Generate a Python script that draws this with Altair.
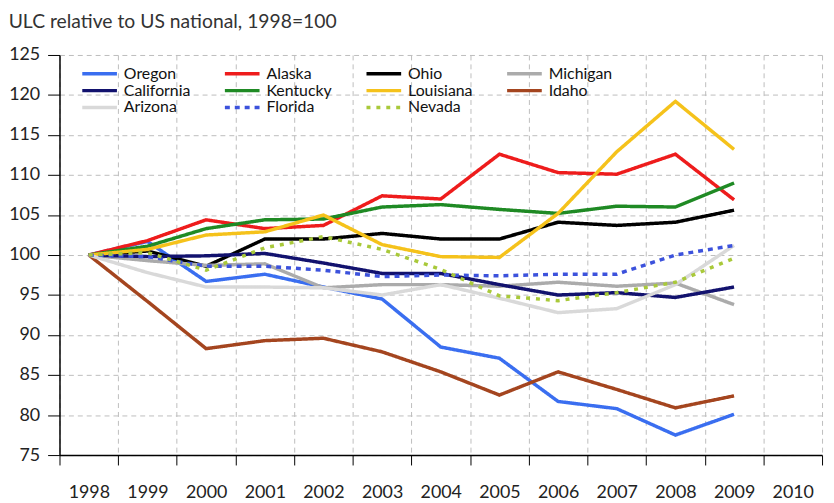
import altair as alt
import pandas as pd

years = [str(y) for y in range(1998, 2011)]
data_years = years[:12]

names = ["Oregon", "Alaska", "Ohio", "Michigan",
         "California", "Kentucky", "Louisiana", "Idaho",
         "Arizona", "Florida", "Nevada"]

oregon = [100, 101.7, 96.7, 97.6, 96.0, 94.5, 88.5, 87.1, 81.7, 80.8, 77.5, 80.1]
alaska = [100, 101.8, 104.4, 103.3, 103.7, 107.4, 107.0, 112.6, 110.3, 110.1, 112.6, 106.9]
ohio = [100, 100.5, 98.6, 102.0, 102.0, 102.7, 102.0, 102.0, 104.1, 103.7, 104.1, 105.6]
michigan = [100, 99.3, 98.7, 98.9, 95.9, 96.3, 96.3, 96.1, 96.6, 96.1, 96.5, 93.8]
california = [100, 99.8, 99.9, 100.2, 99.0, 97.7, 97.7, 96.3, 95.0, 95.3, 94.7, 96.0]
kentucky = [100, 101.1, 103.3, 104.4, 104.5, 106.0, 106.3, 105.7, 105.2, 106.1, 106.0, 109.0]
louisiana = [100, 100.7, 102.5, 102.9, 105.0, 101.3, 99.8, 99.7, 105.2, 112.9, 119.2, 113.2]
idaho = [100, 94.2, 88.3, 89.3, 89.6, 87.9, 85.4, 82.5, 85.4, 83.2, 80.9, 82.4]
arizona = [100, 97.8, 96.0, 96.0, 95.9, 95.0, 96.3, 94.6, 92.8, 93.3, 96.3, 101.2]
florida = [100, 99.8, 98.6, 98.6, 98.1, 97.3, 97.5, 97.4, 97.6, 97.6, 100.0, 101.2]
nevada = [100, 100.3, 98.1, 100.9, 102.3, 100.7, 98.2, 94.9, 94.3, 95.3, 96.6, 99.6]

series_values = [oregon, alaska, ohio, michigan, california, kentucky,
                 louisiana, idaho, arizona, florida, nevada]

colors = ["#3a6ef0", "#ee1c1c", "#000000", "#ababab",
          "#12126e", "#1f8a24", "#f5c21b", "#a4451f",
          "#d9d9d9", "#3c52dc", "#a9c93a"]
dashes = [[1, 0], [1, 0], [1, 0], [1, 0],
          [1, 0], [1, 0], [1, 0], [1, 0],
          [1, 0], [5, 5], [4, 6]]
widths = [3.5, 3.5, 3.5, 3.5, 3, 2.2, 2.5, 2.5, 2.5, 3, 3]

rows = []
for name, vals in zip(names, series_values):
    for y, v in zip(data_years, vals):
        rows.append({"series": name, "year": y, "value": v})
df = pd.DataFrame(rows)

FONT = "Lato"

chart = alt.Chart(df).mark_line().encode(
    x=alt.X("year:O",
            scale=alt.Scale(type="band", domain=years, paddingInner=0, paddingOuter=0),
            axis=alt.Axis(title=None, tickBand="extent", labelAngle=0,
                          labelFontSize=18, labelFont=FONT, labelColor="#222",
                          tickSize=10, tickColor="#000", labelPadding=19,
                          domainColor="#000", domainWidth=1.5,
                          grid=True, gridDash=[5, 4], gridColor="#bdbdbd")),
    y=alt.Y("value:Q",
            scale=alt.Scale(domain=[75, 125], nice=False, zero=False),
            axis=alt.Axis(title=None, values=list(range(75, 130, 5)),
                          labelFontSize=18, labelFont=FONT, labelColor="#222",
                          tickSize=12, tickColor="#000", labelPadding=8,
                          domainColor="#000", domainWidth=1.5,
                          grid=True, gridDash=[5, 4], gridColor="#bdbdbd")),
    color=alt.Color("series:N", scale=alt.Scale(domain=names, range=colors),
                    legend=alt.Legend(title=None)),
    strokeDash=alt.StrokeDash("series:N", scale=alt.Scale(domain=names, range=dashes),
                              legend=alt.Legend(title=None)),
    strokeWidth=alt.StrokeWidth("series:N", scale=alt.Scale(domain=names, range=widths),
                                legend=None),
).properties(
    width=770,
    height=404,
    title=alt.TitleParams("ULC relative to US national, 1998=100", anchor="start",
                          frame="bounds", fontSize=19.5, font=FONT, fontWeight="normal",
                          color="#333", offset=14),
    autosize=alt.AutoSizeParams(type="none"),
    padding={"left": 52, "top": 45, "right": 4, "bottom": 50},
).configure_view(stroke=None).configure_legend(
    orient="none", legendX=31.5, legendY=10, columns=4, direction="horizontal",
    symbolType="M-2.5,0H2.5", symbolSize=196, symbolStrokeWidth=4,
    labelFontSize=16, labelFont=FONT, labelColor="#111",
    columnPadding=27, rowPadding=0, padding=0, labelOffset=15.5,
)

chart.save("out.html", embed_options={"renderer": "svg", "actions": False})
